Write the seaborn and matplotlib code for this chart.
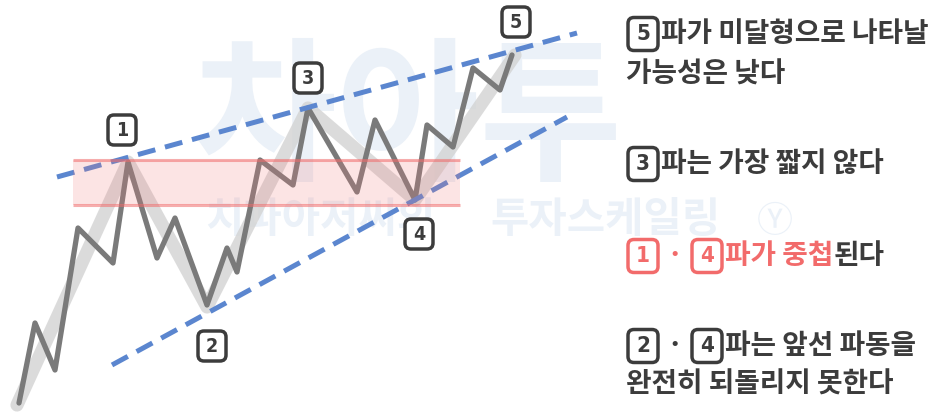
import seaborn as sns
import matplotlib.pyplot as plt
from matplotlib.patches import FancyBboxPatch

# 엘리엇 파동 꼭짓점 (시간, 가격)
wave_t = [19, 35, 55, 78, 113, 128, 157, 175, 207, 227, 237, 260, 293, 308,
          357, 375, 415, 427, 453, 473, 500, 512]
wave_p = [9, 89, 42, 184, 149, 250, 154, 194, 107, 164, 140, 252, 227, 304,
          220, 292, 212, 287, 265, 344, 322, 357]

# 큰 흐름 (시작 ~ 5파)
main_t = [17, 128, 207, 308, 415, 515]
main_p = [7, 250, 105, 304, 212, 357]

# 추세선
upper_t = [57, 577]
upper_p = [235, 379]
lower_t = [112, 567]
lower_p = [47, 295]

# 1파 - 4파 중첩 구간
overlap_t = [73, 460]
overlap_p = [207, 252]

# 파동 번호
wave_labels = ['1', '2', '3', '4', '5']
label_t = [122, 212, 308, 419, 516]
label_p = [282, 66, 334, 178, 390]

sns.set_theme(style='white')
plt.rcParams['font.family'] = ['Noto Sans CJK KR', 'DejaVu Sans']

fig = plt.figure(figsize=(9.35, 4.12), dpi=100)
ax = fig.add_axes([0, 0, 1, 1])
ax.set_xlim(0, 935)
ax.set_ylim(0, 412)
ax.axis('off')

DARK = '#3c3c3c'
PINK = '#f26b6b'
WM = '#ebf1f8'

# 워터마크
ax.text(408, 412 - 122, '차아투', fontsize=112, fontweight='bold', color=WM,
        ha='center', va='center', zorder=0)
ax.text(205, 412 - 220, '치파아저씨의', fontsize=30, fontweight='bold',
        color=WM, ha='left', va='center', zorder=0)
ax.text(490, 412 - 220, '투자스케일링', fontsize=30, fontweight='bold',
        color=WM, ha='left', va='center', zorder=0)
ax.text(775, 412 - 222, 'Ⓨ', fontsize=26, color=WM, ha='center', va='center', zorder=0)

# 파동 선
sns.lineplot(x=main_t, y=main_p, sort=False, color='#d3d3d3', lw=9.5, alpha=0.8,
             solid_capstyle='round', solid_joinstyle='round', ax=ax, zorder=2)
sns.lineplot(x=wave_t, y=wave_p, sort=False, color='#7a7a7a', lw=3.8,
             solid_capstyle='round', ax=ax, zorder=3)

# 추세선
for tt, pp in [(upper_t, upper_p), (lower_t, lower_p)]:
    sns.lineplot(x=tt, y=pp, sort=False, color='#5b86cf', lw=3.6,
                 linestyle=(0, (3.6, 2.0)), ax=ax, zorder=4)

# 중첩 구간
ax.fill_between(overlap_t, overlap_p[0], overlap_p[1], color='#f47a7a',
                alpha=0.2, lw=0, zorder=5)
ax.hlines(overlap_p, overlap_t[0], overlap_t[1], color='#f06a6a', alpha=0.55,
          lw=2.2, zorder=5)


def boxed(x, y, s, color, w=28, h=30, size=14):
    ax.add_patch(FancyBboxPatch((x - w / 2, y - h / 2), w, h,
                                boxstyle='round,pad=0,rounding_size=6',
                                fc='white', ec=color, lw=2.5, zorder=6))
    ax.text(x, y, s, ha='center', va='center', fontsize=size,
            fontweight='bold', fontstretch='condensed', color=color,
            family='DejaVu Sans', zorder=7)


for s, t, p in zip(wave_labels, label_t, label_p):
    boxed(t, p, s, DARK)

# 오른쪽 설명
fs = 20
kw = dict(fontsize=fs, fontweight='black', va='center', ha='left', zorder=7)
bw, bh, bs = 30, 33, 16

y1 = 412 - 34
boxed(643, y1, '5', DARK, bw, bh, bs)
ax.text(661, y1, '파가 미달형으로 나타날', color=DARK, **kw)
ax.text(626, 412 - 75, '가능성은 낮다', color=DARK, **kw)

y3 = 412 - 164
boxed(643, y3, '3', DARK, bw, bh, bs)
ax.text(661, y3, '파는 가장 짧지 않다', color=DARK, **kw)

y4 = 412 - 256
boxed(643, y4, '1', PINK, bw, bh, bs)
ax.text(675, y4, '·', color=PINK, ha='center', va='center', fontsize=fs,
        fontweight='black', zorder=7)
boxed(707, y4, '4', PINK, bw, bh, bs)
t4 = ax.text(725, y4, '파가 중첩', color=PINK, **kw)
ax.annotate('된다', xy=(1, 0.5), xycoords=t4, color=DARK, fontsize=fs,
            fontweight='black', va='center', ha='left', zorder=7)

y5 = 412 - 346
boxed(643, y5, '2', DARK, bw, bh, bs)
ax.text(675, y5, '·', color=DARK, ha='center', va='center', fontsize=fs,
        fontweight='black', zorder=7)
boxed(707, y5, '4', DARK, bw, bh, bs)
ax.text(725, y5, '파는 앞선 파동을', color=DARK, **kw)
ax.text(626, 412 - 385, '완전히 되돌리지 못한다', color=DARK, **kw)

fig.savefig('out.png', dpi=100)
